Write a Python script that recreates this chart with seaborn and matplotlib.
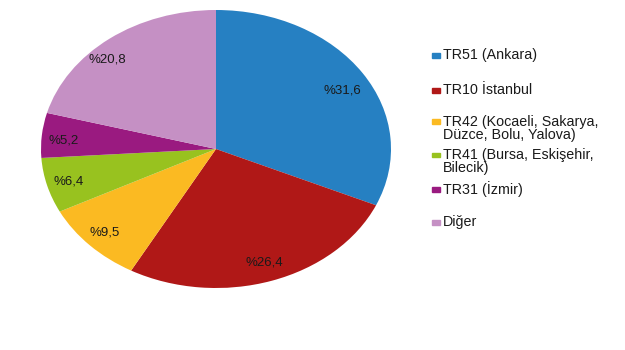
import matplotlib
matplotlib.use("Agg")
import matplotlib.pyplot as plt
import seaborn as sns
from matplotlib.patches import Rectangle

labels = ["TR51 (Ankara)", "TR10 İstanbul", "TR42 (Kocaeli, Sakarya,\nDüzce, Bolu, Yalova)",
          "TR41 (Bursa, Eskişehir,\nBilecik)", "TR31 (İzmir)", "Diğer"]
values = [31.6, 26.4, 9.5, 6.4, 5.2, 20.8]
colors = ["#2680C2", "#B01817", "#FBBA22", "#98C21F", "#9A1A80", "#C590C4"]

sns.set_theme(style="white")
plt.rcParams['font.family'] = ['Liberation Sans', 'DejaVu Sans']

W, H = 625, 350
fig = plt.figure(figsize=(W / 100, H / 100), dpi=100)
fig.patch.set_facecolor("white")

# elliptical pie: axes box sized to the ellipse
cx, cy, rx, ry = 216, 149, 175, 139
ax = fig.add_axes([(cx - rx) / W, 1 - (cy + ry) / H, 2 * rx / W, 2 * ry / H])
wedges, texts, autotexts = ax.pie(
    values, colors=colors, startangle=90, counterclock=False,
    autopct="%1.1f", pctdistance=0.86, wedgeprops=dict(linewidth=0),
    textprops=dict(fontsize=9.5, color="#1a1a1a"))
# small label nudges (pixels: dx right, dy down)
nudges = [(0, 7), (0, 0), (-3, 1), (-2, 1), (-3, 3), (-17, 5)]
for t, v, (dx, dy) in zip(autotexts, values, nudges):
    t.set_text("%" + f"{v:.1f}".replace(".", ","))
    x, y = t.get_position()
    t.set_position((x + dx / rx, y - dy / ry))
ax.set_aspect("auto")
ax.set_xlim(-1, 1)
ax.set_ylim(-1, 1)
ax.axis("off")

# legend (manual layout to match uneven spacing)
first_line_y = [55, 90, 122, 155, 189, 222]
line_h = 13
for lab, col, y0 in zip(labels, colors, first_line_y):
    fig.patches.append(Rectangle((432 / W, 1 - (y0 + 2.5) / H), 8 / W, 5 / H,
                                 transform=fig.transFigure, color=col, figure=fig))
    for i, line in enumerate(lab.split("\n")):
        fig.text(443 / W, 1 - (y0 + i * line_h) / H, line, fontsize=10.3,
                 va="center", ha="left", color="#1a1a1a")

fig.savefig("out.png", dpi=100, facecolor="white")
